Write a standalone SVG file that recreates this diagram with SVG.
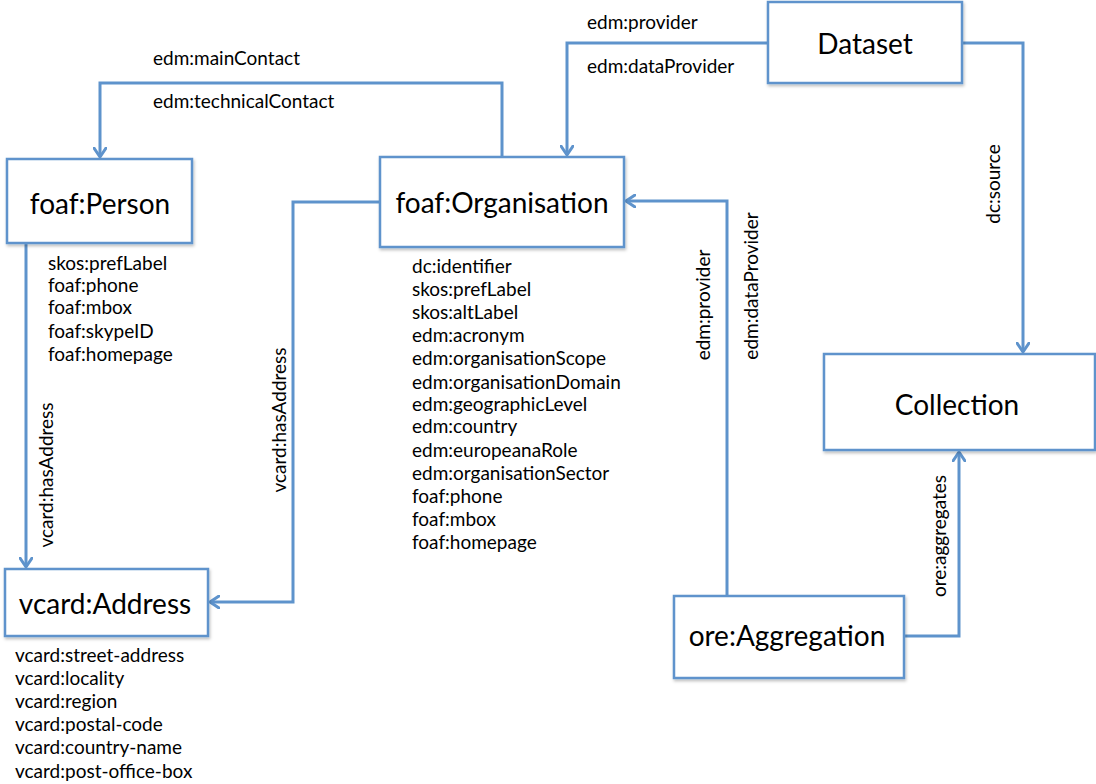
<svg xmlns="http://www.w3.org/2000/svg" width="1096" height="784" viewBox="0 0 1096 784">
<style>
.box{fill:#fff;stroke:#5E93CC;stroke-width:2.5;filter:url(#sh)}
.title{font-family:Lato,"Open Sans",sans-serif;font-size:28px;fill:#000;text-anchor:middle;dominant-baseline:central}
.attr{font-family:Lato,"Open Sans",sans-serif;font-size:19px;fill:#000;dominant-baseline:central}
.lbl{font-family:Lato,"Open Sans",sans-serif;font-size:19px;fill:#000;dominant-baseline:central}
.rl{text-anchor:middle}
.con{fill:none;stroke:#5E93CC;stroke-width:3;marker-end:url(#ah)}
</style>
<defs>
<filter id="sh" x="-10%" y="-10%" width="130%" height="140%">
<feDropShadow dx="1" dy="2" stdDeviation="1.5" flood-color="#000" flood-opacity="0.25"/>
</filter>
<marker id="ah" viewBox="0 0 12 14" refX="10" refY="7" markerWidth="12" markerHeight="14" markerUnits="userSpaceOnUse" orient="auto">
<path d="M1,1 L10,7 L1,13" fill="none" stroke="#5E93CC" stroke-width="3" stroke-linecap="round" stroke-linejoin="round"/>
</marker>
</defs>
<rect width="1096" height="784" fill="#fff"/>
<g id="connectors">
<path class="con" d="M502,157 V83 H100 V157"/>
<path class="con" d="M768,43 H567 V155"/>
<path class="con" d="M962,43 H1023 V352"/>
<path class="con" d="M727,596 V201 H626"/>
<path class="con" d="M904,636 H959 V452"/>
<path class="con" d="M26,243 V567"/>
<path class="con" d="M380,202 H293 V602 H210"/>
<text class="lbl" x="153" y="57">edm:mainContact</text>
<text class="lbl" x="153" y="100">edm:technicalContact</text>
<text class="lbl" x="587" y="21">edm:provider</text>
<text class="lbl" x="587" y="65">edm:dataProvider</text>
<text class="lbl rl" transform="translate(992,184) rotate(-90)">dc:source</text>
<text class="lbl rl" transform="translate(702,305) rotate(-90)">edm:provider</text>
<text class="lbl rl" transform="translate(750,286) rotate(-90)">edm:dataProvider</text>
<text class="lbl rl" transform="translate(938,536) rotate(-90)">ore:aggregates</text>
<text class="lbl rl" transform="translate(45,475) rotate(-90)">vcard:hasAddress</text>
<text class="lbl rl" transform="translate(278,420) rotate(-90)">vcard:hasAddress</text>
</g>
<g id="dataset">
<rect class="box" x="768" y="2" width="194" height="81"/>
<text class="title" x="865" y="43">Dataset</text>
</g>
<g id="person">
<rect class="box" x="7" y="159" width="185" height="84"/>
<text class="title" x="100" y="203">foaf:Person</text>
<text class="attr" x="48" y="262">skos:prefLabel</text>
<text class="attr" x="48" y="284">foaf:phone</text>
<text class="attr" x="48" y="306">foaf:mbox</text>
<text class="attr" x="48" y="330">foaf:skypeID</text>
<text class="attr" x="48" y="353">foaf:homepage</text>
</g>
<g id="organisation">
<rect class="box" x="380" y="157" width="244" height="90"/>
<text class="title" x="502" y="202">foaf:Organisation</text>
<text class="attr" x="412" y="265">dc:identifier</text>
<text class="attr" x="412" y="288">skos:prefLabel</text>
<text class="attr" x="412" y="311">skos:altLabel</text>
<text class="attr" x="412" y="334">edm:acronym</text>
<text class="attr" x="412" y="357">edm:organisationScope</text>
<text class="attr" x="412" y="381">edm:organisationDomain</text>
<text class="attr" x="412" y="403">edm:geographicLevel</text>
<text class="attr" x="412" y="425">edm:country</text>
<text class="attr" x="412" y="449">edm:europeanaRole</text>
<text class="attr" x="412" y="472">edm:organisationSector</text>
<text class="attr" x="412" y="495">foaf:phone</text>
<text class="attr" x="412" y="518">foaf:mbox</text>
<text class="attr" x="412" y="541">foaf:homepage</text>
</g>
<g id="collection">
<rect class="box" x="824" y="354" width="271" height="96"/>
<text class="title" x="957" y="404">Collection</text>
</g>
<g id="aggregation">
<rect class="box" x="674" y="596" width="230" height="82"/>
<text class="title" x="787" y="635">ore:Aggregation</text>
</g>
<g id="address">
<rect class="box" x="5" y="569" width="203" height="67"/>
<text class="title" x="105" y="603">vcard:Address</text>
<text class="attr" x="15" y="654">vcard:street-address</text>
<text class="attr" x="15" y="677">vcard:locality</text>
<text class="attr" x="15" y="700">vcard:region</text>
<text class="attr" x="15" y="723">vcard:postal-code</text>
<text class="attr" x="15" y="746">vcard:country-name</text>
<text class="attr" x="15" y="770">vcard:post-office-box</text>
</g>
</svg>
